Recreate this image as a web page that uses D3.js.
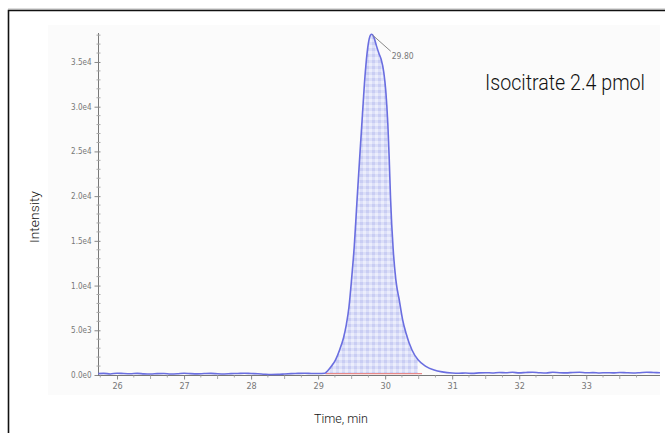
<!DOCTYPE html>
<html><head><meta charset="utf-8">
<script src="https://cdn.jsdelivr.net/npm/d3@7"></script>
<style>
html,body{margin:0;padding:0;background:#fff;}
svg{display:block;}
text{font-family:"Liberation Sans Narrow","Arial Narrow",Roboto,sans-serif;font-weight:300;}
</style></head>
<body>
<svg id="c" width="665" height="433"></svg>
<script>
// ---- data ----
const times = [25.72,25.8,25.9,26.0,26.1,26.2,26.3,26.4,26.5,26.6,26.7,26.8,26.9,27.0,27.1,27.2,27.3,27.4,27.5,27.6,27.7,27.8,27.9,28.0,28.1,28.2,28.3,28.4,28.5,28.6,28.7,28.8,28.9,29.0,
  29.10,29.14,29.20,29.26,29.32,29.38,29.42,29.46,29.50,29.54,29.58,29.62,29.66,29.70,29.74,29.78,29.80,29.83,29.87,29.91,29.94,29.98,30.01,30.04,30.06,30.08,30.12,30.16,30.21,30.26,30.31,30.40,30.49,30.60,30.73,30.85,31.0,
  31.1,31.2,31.3,31.4,31.5,31.6,31.7,31.8,31.9,32.0,32.1,32.2,32.3,32.4,32.5,32.6,32.7,32.8,32.9,33.0,33.1,33.2,33.3,33.4,33.5,33.6,33.7,33.8,33.9,34.0,34.1];
const intensity = [150,180,120,200,160,140,180,130,110,150,170,120,140,190,150,130,160,180,140,120,150,170,200,160,140,90,60,70,110,150,180,200,170,160,
  200,450,1000,1700,2800,4200,5600,7600,10800,14500,19500,24300,29000,33500,36600,38000,38100,37800,36800,35900,35300,33800,31700,28000,24300,19800,14000,10600,8400,6200,4700,2800,1700,1000,560,350,220,
  200,220,180,240,260,230,280,250,300,240,280,310,260,230,300,260,240,280,300,250,270,230,260,240,280,250,230,260,300,280,260];
const peakRT = 29.80;
const peakLabel = "29.80";
const integStart = 29.11, integEnd = 30.55;
const yTickValues = [0,5000,10000,15000,20000,25000,30000,35000];
const yTickLabels = ["0.0e0","5.0e3","1.0e4","1.5e4","2.0e4","2.5e4","3.0e4","3.5e4"];
const xTickValues = [26,27,28,29,30,31,32,33];
const xTickLabels = ["26","27","28","29","30","31","32","33"];
const title = "Isocitrate 2.4 pmol";
const xTitle = "Time, min";
const yTitle = "Intensity";

const data = times.map((t,i)=>({t, v:intensity[i]}));
const svg = d3.select("#c");

// frame
svg.append("line").attr("x1",8).attr("x2",665).attr("y1",9).attr("y2",9).attr("stroke","#bbb").attr("stroke-width",1);
svg.append("path").attr("d","M8.5,433 V10.5 H665").attr("fill","none").attr("stroke","#111").attr("stroke-width",1.6);
// faint plot background
svg.append("rect").attr("x",48).attr("y",25).attr("width",612).attr("height",370).attr("fill","#fbfbfb");

const x = d3.scaleLinear().domain([25.716,34.10]).range([98,660]);
const y = d3.scaleLinear().domain([0,38240]).range([375,33]);

// pattern fill
const defs = svg.append("defs");
const pat = defs.append("pattern").attr("id","hatch").attr("patternUnits","userSpaceOnUse").attr("width",6).attr("height",6);
pat.append("rect").attr("width",6).attr("height",6).attr("fill","#dcdff8");
pat.append("rect").attr("width",3).attr("height",3).attr("x",0).attr("y",0).attr("fill","#c9cdf3");
pat.append("rect").attr("width",3).attr("height",3).attr("x",3).attr("y",3).attr("fill","#eceefc");

// axes
const yAxis = d3.axisLeft(y).tickValues(yTickValues).tickFormat((d,i)=>yTickLabels[i]).tickSize(4).tickPadding(3);
const gy = svg.append("g").attr("transform","translate(98.5,0)").call(yAxis);
gy.select(".domain").attr("stroke","#777").attr("d","M0,33V375");
gy.selectAll(".tick line").attr("stroke","#888").attr("x2",-4).attr("x1",2);
gy.selectAll("text").attr("fill","#777").style("font-size","8px").style("font-weight","400").style("font-family","'DejaVu Sans Condensed','Liberation Sans Narrow',sans-serif");
const yMinor = d3.range(1000,38001,1000).filter(v=>v%5000!==0);
svg.append("g").selectAll("line").data(yMinor).join("line")
  .attr("x1",96.5).attr("x2",100.5).attr("y1",d=>y(d)).attr("y2",d=>y(d)).attr("stroke","#aaa").attr("stroke-width",1);

const xAxis = d3.axisBottom(x).tickValues(xTickValues).tickFormat((d,i)=>xTickLabels[i]).tickSize(4).tickPadding(3);
const gx = svg.append("g").attr("transform","translate(0,375.5)").call(xAxis);
gx.select(".domain").attr("stroke","#777").attr("d","M98,0H660");
gx.selectAll(".tick line").attr("stroke","#888");
gx.selectAll("text").attr("fill","#777").style("font-size","9px").style("font-weight","400").style("font-family","'DejaVu Sans Condensed','Liberation Sans Narrow',sans-serif");
const xMinor = d3.range(25.75,34.1,0.25).filter(v=>Math.abs(v-Math.round(v))>0.01);
svg.append("g").selectAll("line").data(xMinor).join("line")
  .attr("x1",d=>x(d)).attr("x2",d=>x(d)).attr("y1",375.5).attr("y2",d=>Math.abs((d%1)-0.5)<0.01?379:377.5).attr("stroke","#aaa");

// peak fill
const peakData = data.filter(d=>d.t>=integStart && d.t<=integEnd);
const area = d3.area().x(d=>x(d.t)).y0(y(150)).y1(d=>y(d.v)).curve(d3.curveMonotoneX);
svg.append("path").datum(peakData).attr("d",area).attr("fill","url(#hatch)");
// integration baseline
svg.append("line").attr("x1",x(integStart)).attr("x2",x(integEnd)).attr("y1",y(150)).attr("y2",y(150))
  .attr("stroke","#e88a8a").attr("stroke-width",1.3);
// trace
const line = d3.line().x(d=>x(d.t)).y(d=>y(d.v)).curve(d3.curveMonotoneX);
svg.append("path").datum(data).attr("d",line).attr("fill","none").attr("stroke","#6a6ee0").attr("stroke-width",1.6);

// apex annotation
const apex = data.find(d=>d.t===peakRT);
svg.append("line").attr("x1",x(apex.t)+1).attr("y1",y(apex.v)+1).attr("x2",x(apex.t)+19).attr("y2",y(apex.v)+17)
  .attr("stroke","#888").attr("stroke-width",1);
svg.append("text").attr("x",x(apex.t)+20).attr("y",y(apex.v)+25).text(peakLabel)
  .attr("fill","#777").style("font-size","8.5px").style("font-weight","400").style("font-family","'DejaVu Sans Condensed',sans-serif");

// titles
svg.append("text").attr("x",485).attr("y",90).text(title).attr("fill","#111")
  .style("font-size","22px").attr("textLength",160).attr("lengthAdjust","spacingAndGlyphs");
svg.append("text").attr("x",314).attr("y",423).text(xTitle).attr("fill","#111")
  .style("font-size","13px").attr("textLength",54).attr("lengthAdjust","spacingAndGlyphs");
svg.append("text").attr("transform","translate(39,243) rotate(-90)").text(yTitle).attr("fill","#111")
  .style("font-size","13px").attr("textLength",52).attr("lengthAdjust","spacingAndGlyphs");
</script>
</body></html>
